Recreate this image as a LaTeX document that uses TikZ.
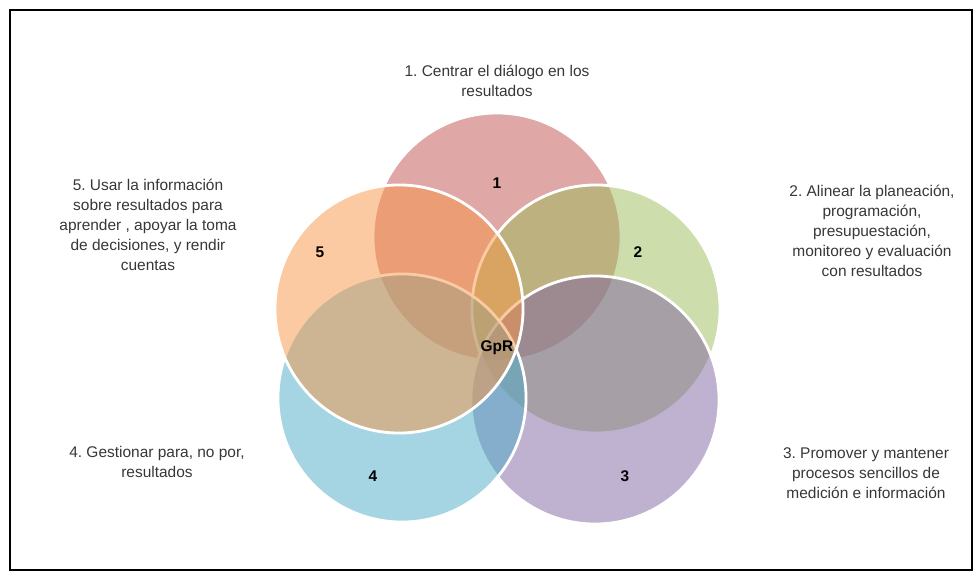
\documentclass[tikz,border=0pt]{standalone}
\usepackage{fontspec}
\setmainfont{Liberation Sans}
\usetikzlibrary{positioning}
\frenchspacing

\definecolor{accRed}{RGB}{192,80,77}
\definecolor{accGreen}{RGB}{155,187,89}
\definecolor{accPurple}{RGB}{128,100,162}
\definecolor{accAqua}{RGB}{75,172,198}
\definecolor{accOrange}{RGB}{247,150,70}
\definecolor{txtGrey}{RGB}{55,55,55}

\begin{document}
\begin{tikzpicture}[
      x=0.025cm, y=-0.025cm,
      font=\fontsize{11}{14.2}\selectfont,
      venn/.style={circle, minimum size=6.2cm, inner sep=0pt,
        draw=white, line width=2pt, fill opacity=0.5, draw opacity=1},
      num/.style={font=\fontsize{11}{13}\selectfont\bfseries, text=black},
      caption/.style={align=center, text=txtGrey}
    ]

    % ------------------ Layout ------------------
    \useasboundingbox (0,0) rectangle (980,576);
    \draw[line width=1.1pt] (10,10) rectangle (972,570);

    % ------------------ Circles (drawn 1,2,3,4,5) ------------------
    \node[venn, fill=accRed]    (c1) at (497,237) {};
    \node[venn, fill=accGreen]  (c2) at (596,309) {};
    \node[venn, fill=accPurple] (c3) at (595,400) {};
    \node[venn, fill=accAqua]   (c4) at (402,398) {};
    \node[venn, fill=accOrange] (c5) at (399,309) {};

    % ------------------ Numbers ------------------
    \node[num] (n1) at (497,183) {1};
    \node[num] (n2) at (638,252) {2};
    \node[num] (n3) at (625,476) {3};
    \node[num] (n4) at (373,476) {4};
    \node[num] (n5) at (320,252) {5};
    \node[num] (gpr) at (497,348) {GpR};

    % ------------------ Captions ------------------
    \node[caption] (t1) at (497,81)
    {1. Centrar el diálogo en los\\resultados};
    \node[caption] (t2) at (872,231)
    {2. Alinear la planeación,\\programación,\\presupuestación,\\
      monitoreo y evaluación\\con resultados};
    \node[caption] (t3) at (866,473)
    {3. Promover y mantener\\procesos sencillos de\\medición e información};
    \node[caption] (t4) at (157,462)
    {4. Gestionar para, no por,\\resultados};
    \node[caption] (t5) at (148,225)
    {5. Usar la información\\sobre resultados para\\aprender , apoyar la toma\\
      de decisiones, y rendir\\cuentas};

  \end{tikzpicture}
\end{document}
